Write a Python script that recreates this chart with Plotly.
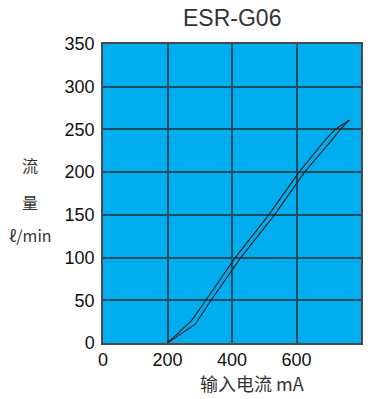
import plotly.graph_objects as go

# Flow rate vs. input current (hysteresis: rising and falling branches)
current_up = [200, 274, 319, 410, 514, 608, 690, 720, 764]
flow_up = [0, 26, 50, 100, 150, 200, 238, 250, 261]
current_down = [200, 286, 335, 427, 532, 625, 706, 736, 764]
flow_down = [0, 22, 50, 100, 150, 200, 236, 250, 261]

x_ticks = [0, 200, 400, 600, 800]
y_ticks = [0, 50, 100, 150, 200, 250, 300, 350]

title_text = "ESR-G06"
x_title = "输入电流 mA"
y_title_lines = ["流", "量", "ℓ/min"]

FONT = "Liberation Sans, Arial, Noto Sans CJK SC, sans-serif"
CJK_FONT = "Noto Sans CJK SC, Liberation Sans, sans-serif"
LINE = "#1c1c1c"
GRID = "#1d4e60"

fig = go.Figure()
for xs, ys in [(current_up, flow_up), (current_down, flow_down)]:
    fig.add_trace(go.Scatter(
        x=xs, y=ys, mode="lines",
        line=dict(color=LINE, width=1.1),
        hoverinfo="skip", showlegend=False,
    ))

fig.update_layout(
    width=374, height=399,
    margin=dict(l=103, r=13, t=44, b=56),
    paper_bgcolor="white",
    plot_bgcolor="#00aeef",
    font=dict(family=FONT, size=18, color="#111"),
    showlegend=False,
)
fig.update_xaxes(
    range=[0, 800], tickvals=x_ticks, ticktext=[str(v) for v in x_ticks],
    showgrid=True, gridcolor=GRID, gridwidth=1.5,
    showline=True, linecolor="#4a4a4a", linewidth=1.5, mirror=True,
    zeroline=False, ticks="", tickfont=dict(size=18, color="#111"),
)
fig.update_yaxes(
    range=[0, 350], tickvals=y_ticks, ticktext=[str(v) for v in y_ticks],
    showgrid=True, gridcolor=GRID, gridwidth=1.5,
    showline=True, linecolor="#4a4a4a", linewidth=1.5, mirror=True,
    zeroline=False, ticks="", tickfont=dict(size=18, color="#111"),
    ticklabelstandoff=3,
)

annotations = [
    dict(text=title_text, xref="paper", yref="paper", x=0.5, y=1,
         yshift=26, xanchor="center", yanchor="middle", showarrow=False,
         font=dict(family=FONT, size=23, color="#333")),
    dict(text=x_title, xref="paper", yref="paper", x=(252 - 103) / 258, y=0,
         yshift=-40, xanchor="center", yanchor="middle", showarrow=False,
         font=dict(family=CJK_FONT, size=18, color="#333")),
]
for text, px_y in zip(y_title_lines, [165, 202, 235]):
    annotations.append(dict(
        text=text, xref="paper", yref="paper", x=0, xshift=-73,
        y=(342.5 - px_y) / 298.5, xanchor="center", yanchor="middle",
        showarrow=False, font=dict(family=CJK_FONT, size=16, color="#333"),
    ))
fig.update_layout(annotations=annotations)

fig.write_html("out.html")
